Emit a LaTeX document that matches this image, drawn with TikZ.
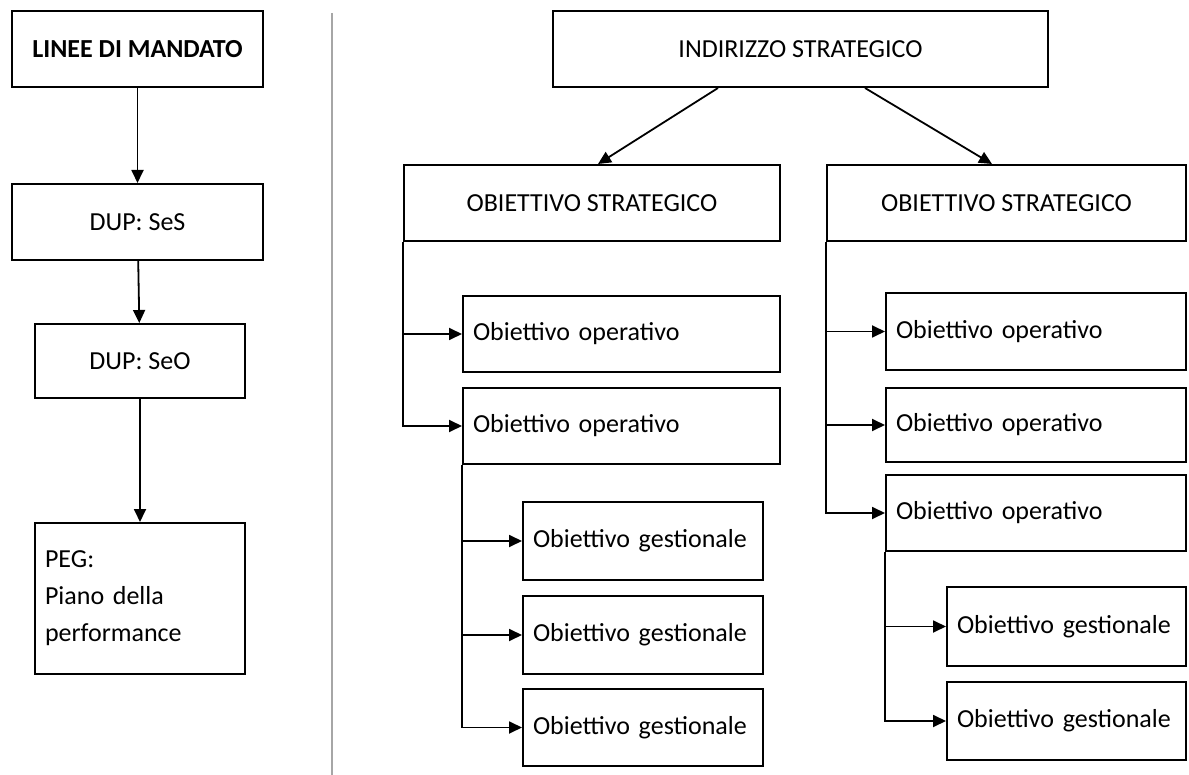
\documentclass[tikz,border=0pt]{standalone}
\usepackage{fontspec}
\setmainfont{Carlito}
\usepackage{tikz}
\usetikzlibrary{arrows.meta,positioning}
\tikzstyle{block} = [rectangle, draw, line width=2pt, align=center, inner sep=0pt, minimum height=76pt]
\tikzstyle{obj} = [rectangle, draw, line width=2pt, align=left, inner xsep=10pt, inner ysep=0pt, minimum height=76pt]
\tikzstyle{freccia} = [-{Triangle[length=13pt,width=12pt]}, line width=1.8pt]

\begin{document}
\begin{tikzpicture}[font=\fontsize{26}{37}\selectfont]
  \useasboundingbox (0pt, 0pt) rectangle (1189pt, -775pt);
  % colonna di sinistra
  \draw (137.5pt, -49.0pt)node[block, minimum width=251pt](mandato){\textbf{LINEE DI MANDATO}};
  \draw (137.5pt, -222.0pt)node[block, minimum width=251pt](ses){DUP: SeS};
  \draw (140.0pt, -361.0pt)node[block, minimum width=210pt, minimum height=74pt](seo){DUP: SeO};
  \draw (140.0pt, -598.5pt)node[obj, text width=190pt, minimum height=151pt](peg){PEG:\\Piano della\\performance};
  \path[freccia] (mandato) edge (ses);
  \path[freccia] (ses) edge (seo);
  \path[freccia] (seo) edge (peg);
  % separatore
  \draw[gray!70, line width=1.5pt] (332pt, -13pt) -- (332pt, -775pt);
  % albero degli obiettivi
  \draw (800.5pt, -49.0pt)node[block, minimum width=495pt](indirizzo){INDIRIZZO STRATEGICO};
  \draw (592.0pt, -203.0pt)node[block, minimum width=376pt](strat1){OBIETTIVO STRATEGICO};
  \draw (1006.5pt, -203.0pt)node[block, minimum width=359pt](strat2){OBIETTIVO STRATEGICO};
  \draw (621.5pt, -334.0pt)node[obj, text width=297pt](op1a){Obiettivo operativo};
  \draw (621.5pt, -426.0pt)node[obj, text width=297pt](op1b){Obiettivo operativo};
  \draw (643.0pt, -541.0pt)node[obj, text width=220pt, minimum height=78pt](ges1a){\mbox{Obiettivo gestionale}};
  \draw (643.0pt, -635.0pt)node[obj, text width=220pt, minimum height=78pt](ges1b){\mbox{Obiettivo gestionale}};
  \draw (643.0pt, -727.5pt)node[obj, text width=220pt, minimum height=77pt](ges1c){\mbox{Obiettivo gestionale}};
  \draw (1036.0pt, -331.5pt)node[obj, text width=280pt, minimum height=77pt](op2a){Obiettivo operativo};
  \draw (1036.0pt, -425.0pt)node[obj, text width=280pt, minimum height=74pt](op2b){Obiettivo operativo};
  \draw (1036.0pt, -513.0pt)node[obj, text width=280pt](op2c){Obiettivo operativo};
  \draw (1066.5pt, -626.5pt)node[obj, text width=219pt, minimum height=79pt](ges2a){\mbox{Obiettivo gestionale}};
  \draw (1066.5pt, -721.0pt)node[obj, text width=219pt, minimum height=78pt](ges2b){\mbox{Obiettivo gestionale}};
  \draw[freccia] ([xshift=-82.5pt]indirizzo.south) -- ([xshift=6pt]strat1.north);
  \draw[freccia] ([xshift=64.5pt]indirizzo.south) -- ([xshift=-14.5pt]strat2.north);
  \draw[freccia] (strat1.south west) |- (op1a.west);
  \draw[freccia] (strat1.south west) |- (op1b.west);
  \draw[freccia] (op1b.south west) |- (ges1a.west);
  \draw[freccia] (op1b.south west) |- (ges1b.west);
  \draw[freccia] (op1b.south west) |- (ges1c.west);
  \draw[freccia] (strat2.south west) |- (op2a.west);
  \draw[freccia] (strat2.south west) |- (op2b.west);
  \draw[freccia] (strat2.south west) |- (op2c.west);
  \draw[freccia] (op2c.south west) |- (ges2a.west);
  \draw[freccia] (op2c.south west) |- (ges2b.west);
\end{tikzpicture}
\end{document}
